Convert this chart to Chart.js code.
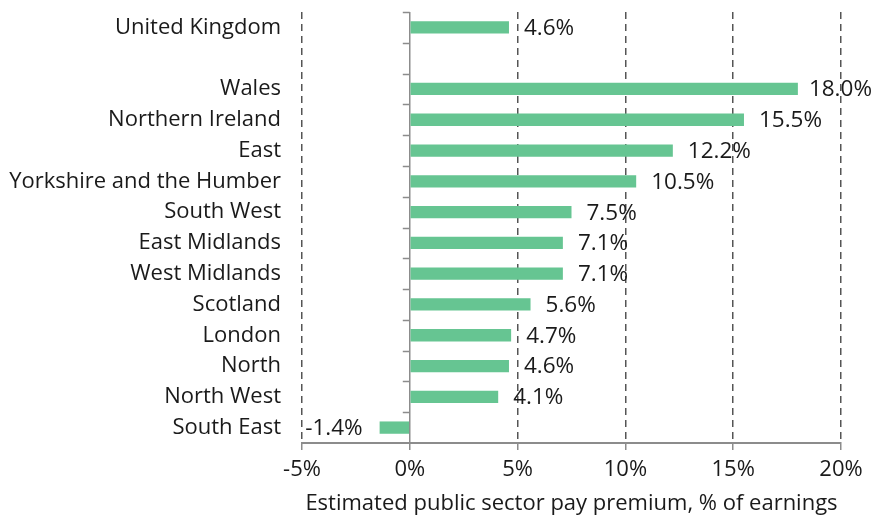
<!DOCTYPE html>
<html>
<head>
<meta charset="utf-8">
<script src="https://cdn.jsdelivr.net/npm/chart.js@4/dist/chart.umd.min.js"></script>
<style>
  html, body { margin: 0; padding: 0; background: #fff; }
  #wrap { width: 875px; height: 521px; position: relative; }
</style>
</head>
<body>
<div id="wrap"><canvas id="chart"></canvas></div>
<script>
// regions, top to bottom (blank entry is the gap under the UK row)
const regions = ["United Kingdom", "", "Wales", "Northern Ireland", "East", "Yorkshire and the Humber",
  "South West", "East Midlands", "West Midlands", "Scotland", "London", "North", "North West", "South East"];
const premium = [4.6, null, 18.0, 15.5, 12.2, 10.5, 7.5, 7.1, 7.1, 5.6, 4.7, 4.6, 4.1, -1.4];
const xMin = -5;
const xMax = 20;
const xStep = 5;
const xTitle = "Estimated public sector pay premium, % of earnings";

const FONT = "'Open Sans', 'Noto Sans', sans-serif";
const BAR = "#66c592";

// value labels next to each bar
const valueLabels = {
  id: "valueLabels",
  afterDatasetsDraw(chart) {
    const ctx = chart.ctx;
    const meta = chart.getDatasetMeta(0);
    ctx.save();
    ctx.font = "22.5px " + FONT;
    ctx.fillStyle = "#1a1a1a";
    ctx.textBaseline = "middle";
    meta.data.forEach((bar, i) => {
      const v = premium[i];
      if (v === null) return;
      const txt = v.toFixed(1) + "%";
      if (v < 0) {
        ctx.textAlign = "right";
        ctx.fillText(txt, bar.x - 17, bar.y + 1);
      } else {
        ctx.textAlign = "left";
        // the widest bar's label is squeezed in against the right edge
        ctx.fillText(txt, bar.x + (v >= 18 ? 11 : 15), bar.y + 1);
      }
    });
    ctx.restore();
  }
};

// small tick marks on the left of the zero line, at category boundaries
const zeroTicks = {
  id: "zeroTicks",
  afterDraw(chart) {
    const ctx = chart.ctx;
    const x0 = chart.scales.x.getPixelForValue(0);
    const ys = chart.scales.y;
    ctx.save();
    ctx.strokeStyle = "#8c8c8c";
    ctx.lineWidth = 1.5;
    ctx.beginPath();
    for (let i = 0; i < regions.length; i++) {
      const y = Math.round(ys.getPixelForValue(i - 0.5)) + 0.5;
      ctx.moveTo(x0 - 7, y);
      ctx.lineTo(x0, y);
    }
    ctx.stroke();
    ctx.restore();
  }
};

new Chart(document.getElementById("chart"), {
  type: "bar",
  data: {
    labels: regions,
    datasets: [{
      data: premium,
      backgroundColor: BAR,
      borderWidth: 0,
      barPercentage: 0.4,
      categoryPercentage: 1.0
    }]
  },
  options: {
    indexAxis: "y",
    responsive: true,
    maintainAspectRatio: false,
    animation: false,
    layout: { padding: { top: 12, right: 34, bottom: 0, left: 0 } },
    plugins: {
      legend: { display: false },
      tooltip: { enabled: false }
    },
    scales: {
      x: {
        min: xMin,
        max: xMax,
        ticks: {
          stepSize: xStep,
          callback: v => v + "%",
          color: "#1a1a1a",
          font: { family: FONT, size: 22 },
          padding: 7,
          maxRotation: 0
        },
        grid: {
          color: ctx => ctx.tick && ctx.tick.value === 0 ? "#8c8c8c" : "#555555",
          lineWidth: 1.5,
          drawTicks: true,
          tickLength: 7,
          tickColor: "#8c8c8c",
          tickWidth: 1.5
        },
        border: {
          display: true,
          color: "#8c8c8c",
          width: 2,
          dash: ctx => ctx.tick && ctx.tick.value === 0 ? [] : [7, 5]
        },
        title: {
          display: true,
          text: xTitle,
          color: "#1a1a1a",
          font: { family: FONT, size: 22 },
          padding: { top: 0, bottom: 4 }
        },
        afterFit: scale => { scale.height = 78; }
      },
      y: {
        ticks: {
          color: "#1a1a1a",
          font: { family: FONT, size: 22 },
          padding: 21,
          autoSkip: false
        },
        grid: { display: false, drawTicks: false },
        border: { display: false },
        afterFit: scale => {
          scale.width = 302;
          scale.paddingTop = 0;
          scale.paddingBottom = 0;
        }
      }
    }
  },
  plugins: [valueLabels, zeroTicks]
});
</script>
</body>
</html>
